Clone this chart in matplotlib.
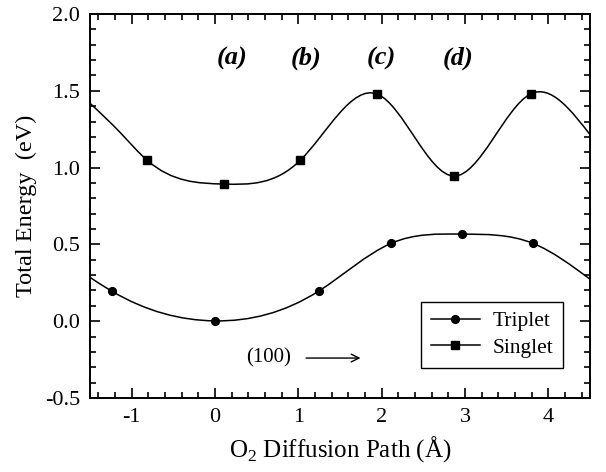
import numpy as np
import matplotlib
matplotlib.use("Agg")
import matplotlib.pyplot as plt
from matplotlib.path import Path
from matplotlib.patches import PathPatch
from matplotlib.ticker import MultipleLocator, FormatStrFormatter

plt.rcParams['font.family'] = ['Liberation Serif', 'DejaVu Serif']
plt.rcParams['axes.unicode_minus'] = False
plt.rcParams['mathtext.fontset'] = 'custom'
plt.rcParams['mathtext.rm'] = 'Liberation Serif'

# calculated points
trip_x = [-1.24, 0.0, 1.245, 2.11, 2.97, 3.82]
trip_y = [0.196, 0.002, 0.196, 0.506, 0.567, 0.506]
sing_x = [-0.815, 0.105, 1.024, 1.95, 2.867, 3.79]
sing_y = [1.048, 0.893, 1.048, 1.478, 0.945, 1.480]

# fitted curve knots (incl. where it leaves the frame)
trip_cx = [-1.51, -1.24, 0.0, 1.245, 2.11, 2.97, 3.82, 4.5]
trip_cy = [0.289, 0.196, 0.002, 0.196, 0.506, 0.567, 0.506, 0.274]
sing_cx = [-1.5, -1.13, -0.815, 0.105, 1.024, 1.95, 2.867, 3.79, 4.52]
sing_cy = [1.419, 1.224, 1.048, 0.893, 1.048, 1.478, 0.945, 1.480, 1.201]

site_labels = ['(a)', '(b)', '(c)', '(d)']
site_x = [0.2, 1.09, 2.0, 2.92]


def spline_path(xs, ys):
    # natural cubic spline, handed to matplotlib as bezier segments
    x = np.asarray(xs, float)
    y = np.asarray(ys, float)
    n = len(x)
    h = np.diff(x)
    A = np.zeros((n, n))
    b = np.zeros(n)
    A[0, 0] = A[-1, -1] = 1
    for i in range(1, n - 1):
        A[i, i - 1] = h[i - 1]
        A[i, i] = 2 * (h[i - 1] + h[i])
        A[i, i + 1] = h[i]
        b[i] = 6 * ((y[i + 1] - y[i]) / h[i] - (y[i] - y[i - 1]) / h[i - 1])
    M = np.linalg.solve(A, b)
    m = np.zeros(n)
    m[:-1] = np.diff(y) / h - h * (2 * M[:-1] + M[1:]) / 6
    m[-1] = (y[-1] - y[-2]) / h[-1] + h[-1] * (M[-2] + 2 * M[-1]) / 6
    verts = [(x[0], y[0])]
    codes = [Path.MOVETO]
    for i in range(n - 1):
        verts += [(x[i] + h[i] / 3, y[i] + m[i] * h[i] / 3),
                  (x[i + 1] - h[i] / 3, y[i + 1] - m[i + 1] * h[i] / 3),
                  (x[i + 1], y[i + 1])]
        codes += [Path.CURVE4] * 3
    return Path(verts, codes)


fig = plt.figure(figsize=(6.06, 4.72), dpi=100)
ax = fig.add_axes([0.1485, 0.1568, 0.825, 0.8135])

for cx, cy in [(trip_cx, trip_cy), (sing_cx, sing_cy)]:
    ax.add_patch(PathPatch(spline_path(cx, cy), facecolor='none', edgecolor='black', lw=1.1))

ax.plot(trip_x, trip_y, 'o', color='black', ms=5.6)
ax.plot(sing_x, sing_y, 's', color='black', ms=5.8)

# legend handles
ax.plot([], [], '-o', color='black', ms=5.6, lw=1.1, label='Triplet')
ax.plot([], [], '-s', color='black', ms=5.8, lw=1.1, label='Singlet')
leg = ax.legend(loc='lower right', bbox_to_anchor=(0.947, 0.079), fontsize=15.5, handlelength=2.3,
                fancybox=False, edgecolor='black', framealpha=1, borderpad=0.45, labelspacing=0.3,
                handletextpad=0.6, borderaxespad=0)
leg.get_frame().set_linewidth(1.0)

for lab, x in zip(site_labels, site_x):
    ax.text(x, 1.71, lab, ha='center', va='center', fontsize=19, fontweight='bold', fontstyle='italic')

ax.text(0.64, -0.24, '(100)', ha='center', va='center', fontsize=15)
ax.annotate('', xy=(1.78, -0.24), xytext=(1.06, -0.24),
            arrowprops=dict(arrowstyle='->', color='black', lw=1.0, mutation_scale=14))

ax.set_xlim(-1.5, 4.5)
ax.set_ylim(-0.5, 2.0)
ax.xaxis.set_major_locator(MultipleLocator(1))
ax.xaxis.set_minor_locator(MultipleLocator(0.2))
ax.yaxis.set_major_locator(MultipleLocator(0.5))
ax.yaxis.set_minor_locator(MultipleLocator(0.1))
ax.yaxis.set_major_formatter(FormatStrFormatter('%.1f'))
ax.tick_params(which='both', direction='in', top=True, right=True, labelsize=16, width=1.2)
ax.tick_params(which='major', length=7, pad=7)
ax.tick_params(which='minor', length=4.5)
for s in ax.spines.values():
    s.set_linewidth(1.4)

ax.set_xlabel(r'O$_2$ Diffusion Path (Å)', fontsize=18, labelpad=5)
ax.set_ylabel('Total Energy  (eV)', fontsize=17.5, labelpad=6)

fig.savefig('out.png', dpi=100)
